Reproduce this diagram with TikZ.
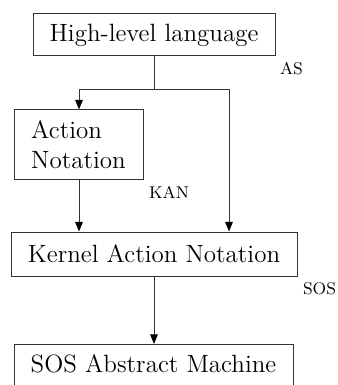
\documentclass[tikz,border=0pt]{standalone}
\usetikzlibrary{arrows.meta}
\begin{document}
\begin{tikzpicture}[x=0.5pt,y=-0.5pt,
  box/.style={draw=black!80, line width=0.5pt, inner sep=0pt, font=\fontsize{12.5}{15}\selectfont},
  lbl/.style={inner sep=0pt, font=\fontsize{8.5}{10}\selectfont},
  conn/.style={draw=black!80, line width=0.5pt},
  arr/.style={conn, -{Triangle[length=4.8pt,width=3.8pt,color=black]}}]
\useasboundingbox (0,0) rectangle (337,385);
\clip (0,0) rectangle (337,385);
\node[box, minimum width=121pt, minimum height=21pt] (hl) at (154,35) {High-level language};
\node[box, minimum width=64.5pt, minimum height=34.5pt, align=left] (an) at (78.5,144.5) {Action\\Notation};
\node[box, minimum width=143pt, minimum height=22pt] (kan) at (154,254) {Kernel Action Notation};
\node[box, minimum width=139.5pt, text height=14pt, text depth=8pt, anchor=north] (sos) at (153.5,344) {SOS Abstract Machine};
\coordinate (split) at (154,90);
\coordinate (sl) at (79,90);
\coordinate (sr) at (229,90);
\draw[conn] (hl.south) -- (split);
\draw[arr] (split) -- (sl) -- (sl |- an.north);
\draw[arr] (split) -- (sr) -- (sr |- kan.north);
\draw[arr] (sl |- an.south) -- (sl |- kan.north);
\draw[arr] (kan.south) -- (kan.south |- sos.north);
\node[lbl] (las) at (291.5,69) {AS};
\node[lbl] (lkan) at (169,192.5) {KAN};
\node[lbl] (lsos) at (319.5,289) {SOS};
\end{tikzpicture}
\end{document}
